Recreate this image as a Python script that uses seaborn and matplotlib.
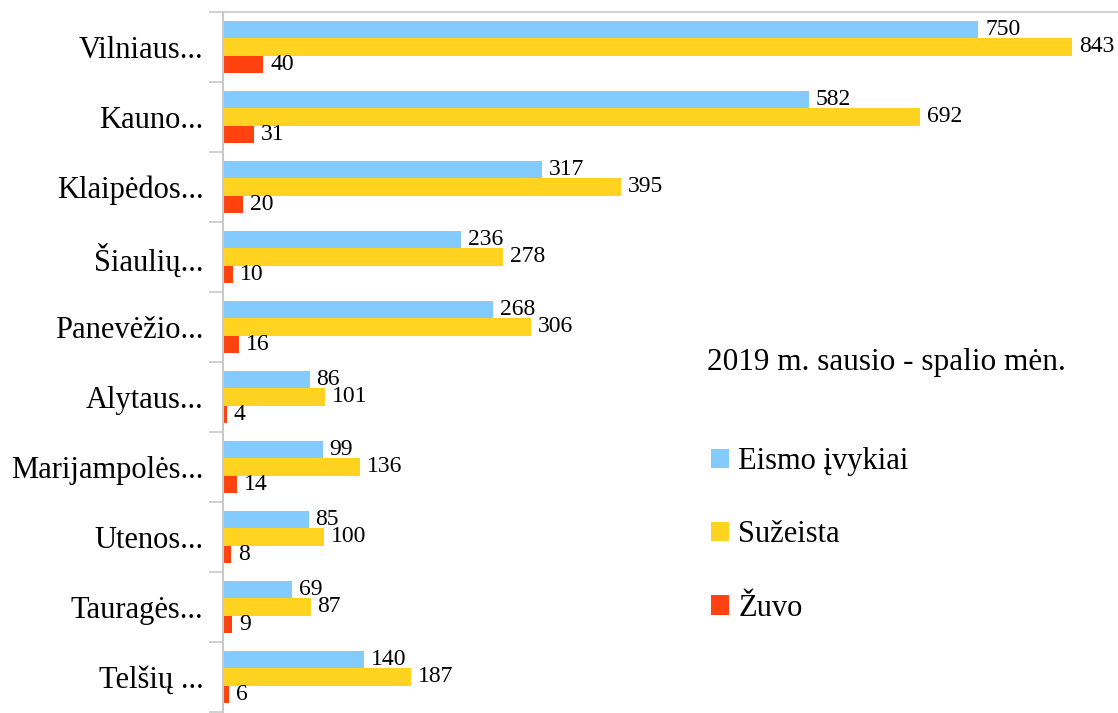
import numpy as np
import pandas as pd
import matplotlib
matplotlib.use('Agg')
import matplotlib.pyplot as plt
import seaborn as sns

# data
regions = ['Vilniaus...', 'Kauno...', 'Klaipėdos...', 'Šiaulių...', 'Panevėžio...',
           'Alytaus...', 'Marijampolės...', 'Utenos...', 'Tauragės...', 'Telšių ...']
eismo_ivykiai = [750, 582, 317, 236, 268, 86, 99, 85, 69, 140]
suzeista = [843, 692, 395, 278, 306, 101, 136, 100, 87, 187]
zuvo = [40, 31, 20, 10, 16, 4, 14, 8, 9, 6]
series_names = ['Eismo įvykiai', 'Sužeista', 'Žuvo']
colors = ['#83CAFF', '#FFD320', '#FF420E']
legend_title = '2019 m. sausio - spalio mėn.'

df = pd.DataFrame({'Regionas': regions,
                   series_names[0]: eismo_ivykiai,
                   series_names[1]: suzeista,
                   series_names[2]: zuvo})
long_df = df.melt(id_vars='Regionas', var_name='Serija', value_name='Kiekis')

sns.set_style('white')
plt.rcParams['font.family'] = ['Liberation Serif', 'DejaVu Serif']
plt.rcParams['text.color'] = 'black'
plt.rcParams['ytick.labelcolor'] = 'black'

fig = plt.figure(figsize=(11.18, 7.13), dpi=100)
ax = fig.add_axes([223 / 1118, 1 / 713, 1 - 223 / 1118, 1 - 13 / 713])

sns.barplot(data=long_df, y='Regionas', x='Kiekis', hue='Serija',
            orient='h', palette=colors, saturation=1, width=0.75,
            linewidth=0, ax=ax)

for cont in ax.containers:
    ax.bar_label(cont, padding=5, fontsize=17, color='black')

ax.set_xlim(0, 889)
ax.set_ylim(9.5, -0.5)
ax.set_xlabel('')
ax.set_ylabel('')
ax.set_xticks([])

# ticks between categories like the original
ax.set_yticks(np.arange(-0.5, 10, 1), minor=True)
ax.tick_params(axis='y', which='major', length=0, pad=14, labelsize=22, labelcolor='black')
ax.tick_params(axis='y', which='minor', length=10, width=1.2, color='#C8C8C8', left=True)

for s in ['right', 'bottom']:
    ax.spines[s].set_visible(False)
ax.spines['left'].set_color('#C8C8C8')
ax.spines['left'].set_linewidth(1.5)
ax.spines['top'].set_color('#C8C8C8')
ax.spines['top'].set_linewidth(1.2)

handles, labels = ax.get_legend_handles_labels()
ax.legend(handles, labels, loc='center left', bbox_to_anchor=(711 / 1118, 1 - 535 / 713),
          bbox_transform=fig.transFigure, frameon=False, fontsize=22,
          handlelength=0.6, handleheight=0.6, handletextpad=0.3,
          labelspacing=1.45, borderpad=0, borderaxespad=0)

fig.text(707 / 1118, 1 - 362 / 713, legend_title, fontsize=22.5, ha='left', va='center')

fig.savefig('out.png', dpi=100)
